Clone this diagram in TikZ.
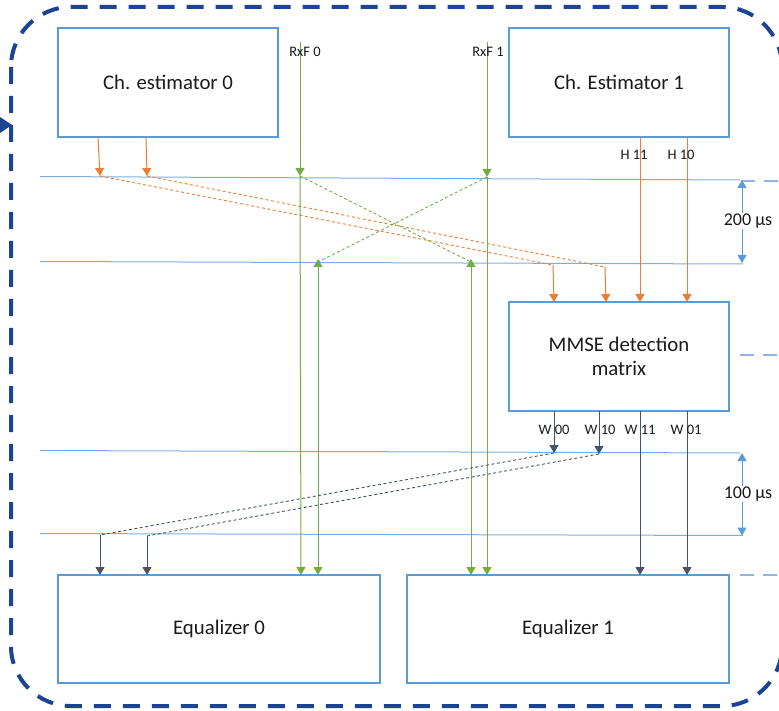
\documentclass[tikz,border=0pt]{standalone}
\usepackage{fontspec}
\setmainfont{Carlito}
\usetikzlibrary{arrows.meta}
\definecolor{boxblue}{HTML}{5B9BD5}
\definecolor{linblue}{HTML}{7EADDD}
\definecolor{dkblue}{HTML}{1B4594}
\definecolor{grn}{HTML}{70AD47}
\definecolor{org}{HTML}{ED7D31}
\definecolor{slate}{HTML}{44546A}
\definecolor{stub}{HTML}{8FB3E6}
\definecolor{txt}{HTML}{1A1A1A}
\begin{document}
\begin{tikzpicture}[x=1pt,y=-1pt,
  >={Triangle[width=9pt,length=8pt]},
  blk/.style={draw=boxblue, line width=1.3pt, inner sep=0pt, align=center, text=txt,
    font=\fontsize{20.8}{24.5}\selectfont},
  tline/.style={draw=linblue, line width=1pt},
  gline/.style={draw=grn, line width=1pt, ->},
  oline/.style={draw=org, line width=1pt, ->},
  sline/.style={draw=slate, line width=1pt, ->},
  fdash/.style={line width=0.9pt, dash pattern=on 3pt off 2.5pt},
  lbl/.style={font=\fontsize{14.5}{16}\selectfont, text=txt, inner sep=0pt},
  dim/.style={font=\fontsize{18}{20}\selectfont, text=txt, fill=white, inner sep=1pt},
  stubline/.style={draw=stub, line width=2pt, dash pattern=on 14pt off 9pt},
  dimarrow/.style={draw=boxblue, line width=1pt, {Triangle[width=9pt,length=8pt]}-{Triangle[width=9pt,length=8pt]}}
]
\useasboundingbox (0,0) rectangle (779,711);

% outer dashed rounded frame
\draw[dkblue, line width=4pt, dash pattern=on 17pt off 12pt, rounded corners=60pt] (11,7) rectangle (782,706);
\fill[dkblue] (0,117) -- (12,125) -- (0,133) -- cycle;

% blocks
\node[blk, minimum width=220pt, minimum height=109pt] (ce0) at (168,82.5) {Ch. estimator 0};
\node[blk, minimum width=220pt, minimum height=109pt] (ce1) at (619,82.5) {Ch. Estimator 1};
\node[blk, minimum width=220pt, minimum height=109pt] (mmse) at (619,356.5) {MMSE detection\\matrix};
\node[blk, minimum width=322pt, minimum height=108pt] (eq0) at (219,629) {Equalizer 0};
\node[blk, minimum width=322pt, minimum height=108pt] (eq1) at (568,629) {Equalizer 1};

% timing lines
\coordinate (t1a) at (40,176.5); \coordinate (t1b) at (740,180);
\coordinate (t2a) at (40,261.5); \coordinate (t2b) at (743,264);
\coordinate (t3a) at (40,450.5); \coordinate (t3b) at (740,453);
\coordinate (t4a) at (40,533.5); \coordinate (t4b) at (743,535.5);
\draw[tline] (t1a) -- (t1b);
\draw[tline] (t2a) -- (t2b);
\draw[tline] (t3a) -- (t3b);
\draw[tline] (t4a) -- (t4b);

% right stubs
\coordinate (s1a) at (741,181); \coordinate (s1b) at (779,181);
\coordinate (s2a) at (740,355); \coordinate (s2b) at (779,355);
\coordinate (s3a) at (740,575); \coordinate (s3b) at (779,575);
\draw[stubline] (s1a) -- (s1b);
\draw[stubline] (s2a) -- (s2b);
\draw[stubline] (s3a) -- (s3b);

% dimension arrows
\coordinate (d1a) at (742,180); \coordinate (d1b) at (742,263);
\coordinate (d2a) at (742,453); \coordinate (d2b) at (742,535.5);
\draw[dimarrow] (d1a) -- (d1b);
\draw[dimarrow] (d2a) -- (d2b);
\node[dim] (dim1) at (748,221) {200 µs};
\node[dim] (dim2) at (748,494) {100 µs};

% orange: channel estimates
\coordinate (oa0) at (98,137);  \coordinate (oa1) at (100,176);
\coordinate (ob0) at (146,137); \coordinate (ob1) at (147,176);
\coordinate (oa2) at (553,265); \coordinate (oa3) at (554,302);
\coordinate (ob2) at (605,267); \coordinate (ob3) at (606,302);
\coordinate (h11a) at (640,137); \coordinate (h11b) at (640,302);
\coordinate (h10a) at (687,137); \coordinate (h10b) at (687,302);
\draw[oline] (oa0) -- (oa1);
\draw[oline] (ob0) -- (ob1);
\draw[org, fdash] (oa1) -- (oa2);
\draw[org, fdash] (ob1) -- (ob2);
\draw[oline] (oa2) -- (oa3);
\draw[oline] (ob2) -- (ob3);
\draw[oline] (h11a) -- (h11b);
\draw[oline] (h10a) -- (h10b);

% green: RxF
\coordinate (r0a) at (300,42);  \coordinate (r0b) at (300,176); \coordinate (r0c) at (301,575);
\coordinate (r1a) at (487,42);  \coordinate (r1b) at (487,177); \coordinate (r1c) at (487,575);
\coordinate (g0a) at (318,259); \coordinate (g0b) at (318,575);
\coordinate (g1a) at (471,259); \coordinate (g1b) at (471,575);
\coordinate (g0m) at (318,262); \coordinate (g1m) at (471,262);
\draw[gline] (r0a) -- (r0b);
\draw[gline] (r0b) -- (r0c);
\draw[gline] (r1a) -- (r1b);
\draw[gline] (r1b) -- (r1c);
\draw[grn, fdash] (r0b) -- (g1m);
\draw[grn, fdash] (r1b) -- (g0m);
\draw[grn, line width=1pt, {Triangle[width=9pt,length=8pt]}-{Triangle[width=9pt,length=8pt]}] (g0a) -- (g0b);
\draw[grn, line width=1pt, {Triangle[width=9pt,length=8pt]}-{Triangle[width=9pt,length=8pt]}] (g1a) -- (g1b);

% slate: W
\coordinate (w00a) at (554,411); \coordinate (w00b) at (554,453);
\coordinate (w10a) at (599,411); \coordinate (w10b) at (599,454);
\coordinate (w00c) at (100,535); \coordinate (w00d) at (100,575);
\coordinate (w10c) at (147,536); \coordinate (w10d) at (147,575);
\coordinate (w11a) at (640,411); \coordinate (w11b) at (640,575);
\coordinate (w01a) at (687,411); \coordinate (w01b) at (687,575);
\draw[sline] (w00a) -- (w00b);
\draw[sline] (w10a) -- (w10b);
\draw[slate, fdash] (w00b) -- (w00c);
\draw[slate, fdash] (w10b) -- (w10c);
\draw[sline] (w00c) -- (w00d);
\draw[sline] (w10c) -- (w10d);
\draw[sline] (w11a) -- (w11b);
\draw[sline] (w01a) -- (w01b);

% labels
\node[lbl] (lr0) at (305,52) {RxF 0};
\node[lbl] (lr1) at (488,52) {RxF 1};
\node[lbl] (lh11) at (634,155) {H 11};
\node[lbl] (lh10) at (681,155) {H 10};
\node[lbl] (lw00) at (554,430) {W 00};
\node[lbl] (lw10) at (600,430) {W 10};
\node[lbl] (lw11) at (640,430) {W 11};
\node[lbl] (lw01) at (686,430) {W 01};
\end{tikzpicture}
\end{document}
